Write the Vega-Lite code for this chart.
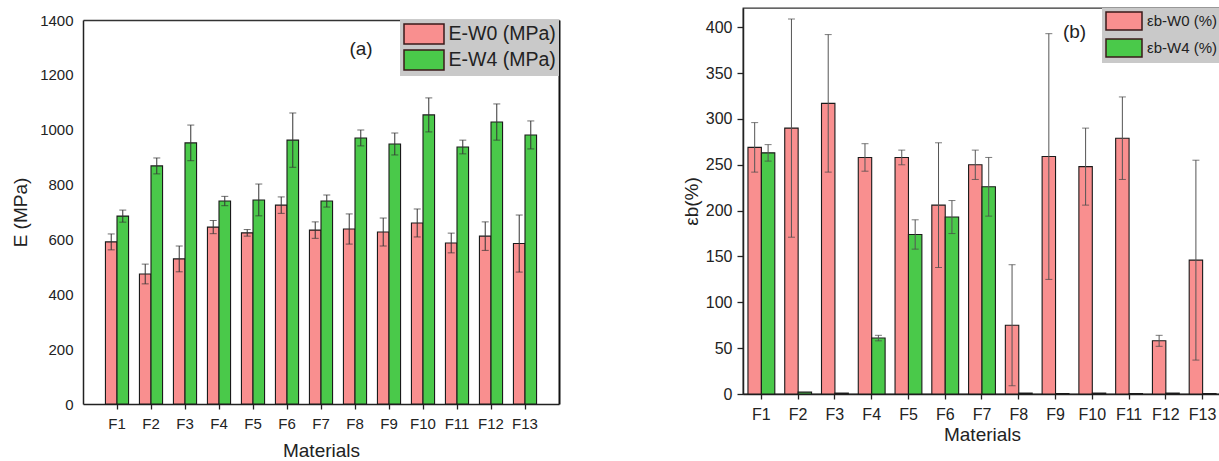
{
  "$schema": "https://vega.github.io/schema/vega-lite/v6.json",
  "background": "white",
  "padding": {"left": 11, "top": 7, "right": 0, "bottom": 0},
  "config": {
    "font": "Liberation Sans",
    "view": {"stroke": "#333", "strokeWidth": 1.3},
    "axis": {"domainColor": "#222", "domainWidth": 1.5, "tickColor": "#222", "tickWidth": 1.3, "labelColor": "#222", "titleColor": "#222", "grid": false, "titleFontWeight": "normal", "labelFont": "Liberation Sans", "titleFont": "Liberation Sans"},
    "legend": {"labelFont": "Liberation Sans", "labelColor": "#222"}
  },
  "resolve": {"scale": {"color": "independent", "xOffset": "independent", "x": "independent", "y": "independent"}, "legend": {"color": "independent"}},
  "spacing": 122,
  "hconcat": [
    {
      "width": 476,
      "height": 396,
      "view": {"stroke": null},
      "data": {"values": [
        {"m": "F1", "s": "E-W0 (MPa)", "v": 591, "lo": 562, "hi": 620},
        {"m": "F1", "s": "E-W4 (MPa)", "v": 685, "lo": 663, "hi": 707},
        {"m": "F2", "s": "E-W0 (MPa)", "v": 474, "lo": 438, "hi": 510},
        {"m": "F2", "s": "E-W4 (MPa)", "v": 868, "lo": 839, "hi": 897},
        {"m": "F3", "s": "E-W0 (MPa)", "v": 529, "lo": 482, "hi": 576},
        {"m": "F3", "s": "E-W4 (MPa)", "v": 952, "lo": 887, "hi": 1017},
        {"m": "F4", "s": "E-W0 (MPa)", "v": 645, "lo": 621, "hi": 669},
        {"m": "F4", "s": "E-W4 (MPa)", "v": 740, "lo": 723, "hi": 757},
        {"m": "F5", "s": "E-W0 (MPa)", "v": 624, "lo": 612, "hi": 636},
        {"m": "F5", "s": "E-W4 (MPa)", "v": 744, "lo": 686, "hi": 802},
        {"m": "F6", "s": "E-W0 (MPa)", "v": 725, "lo": 695, "hi": 755},
        {"m": "F6", "s": "E-W4 (MPa)", "v": 962, "lo": 863, "hi": 1061},
        {"m": "F7", "s": "E-W0 (MPa)", "v": 634, "lo": 604, "hi": 664},
        {"m": "F7", "s": "E-W4 (MPa)", "v": 740, "lo": 718, "hi": 762},
        {"m": "F8", "s": "E-W0 (MPa)", "v": 638, "lo": 583, "hi": 693},
        {"m": "F8", "s": "E-W4 (MPa)", "v": 970, "lo": 941, "hi": 999},
        {"m": "F9", "s": "E-W0 (MPa)", "v": 627, "lo": 576, "hi": 678},
        {"m": "F9", "s": "E-W4 (MPa)", "v": 948, "lo": 908, "hi": 988},
        {"m": "F10", "s": "E-W0 (MPa)", "v": 660, "lo": 609, "hi": 711},
        {"m": "F10", "s": "E-W4 (MPa)", "v": 1054, "lo": 992, "hi": 1116},
        {"m": "F11", "s": "E-W0 (MPa)", "v": 587, "lo": 551, "hi": 623},
        {"m": "F11", "s": "E-W4 (MPa)", "v": 937, "lo": 912, "hi": 962},
        {"m": "F12", "s": "E-W0 (MPa)", "v": 612, "lo": 560, "hi": 664},
        {"m": "F12", "s": "E-W4 (MPa)", "v": 1028, "lo": 962, "hi": 1094},
        {"m": "F13", "s": "E-W0 (MPa)", "v": 585, "lo": 481, "hi": 689},
        {"m": "F13", "s": "E-W4 (MPa)", "v": 981, "lo": 930, "hi": 1032}
      ]},
      "encoding": {
        "x": {"field": "m", "type": "nominal", "sort": ["F1","F2","F3","F4","F5","F6","F7","F8","F9","F10","F11","F12","F13"],
              "scale": {"paddingInner": 0.32, "paddingOuter": 0.66}, "axis": null},
        "xOffset": {"field": "s", "type": "nominal", "scale": {"paddingInner": 0, "paddingOuter": 0}}
      },
      "resolve": {"axis": {"x": "independent", "y": "independent"}},
      "layer": [
        {
          "mark": {"type": "bar", "stroke": "#1a1a1a", "strokeWidth": 1.1, "opacity": 1},
          "encoding": {
            "x": {"field": "m", "type": "nominal", "sort": ["F1","F2","F3","F4","F5","F6","F7","F8","F9","F10","F11","F12","F13"],
                  "axis": {"title": "Materials", "titleFontSize": 19, "titlePadding": 10, "labelFontSize": 15, "labelAngle": 0, "tickSize": 5, "labelPadding": 7}},
            "y": {"field": "v", "type": "quantitative", "scale": {"domain": [0, 1400], "nice": false, "range": [396, 12]},
                  "axis": {"title": "E (MPa)", "titleFontSize": 19, "titlePadding": 9, "labelFontSize": 15, "ticks": false, "labelPadding": 10, "format": "d", "values": [0,200,400,600,800,1000,1200,1400]}},
            "color": {"field": "s", "type": "nominal", "scale": {"range": ["#F98F8F", "#4AC94A"]},
                      "legend": {"title": null, "orient": "none", "legendX": 317, "legendY": 12, "fillColor": "#c9c9c9", "padding": 3, "rowPadding": 0, "labelFontSize": 19.5, "labelOffset": 23.5, "symbolType": "M-1,-1H3V1H-1Z", "symbolSize": 400, "symbolStrokeColor": "#3a1a1a", "symbolStrokeWidth": 1.5, "symbolOpacity": 1}}
          }
        },
        {
          "mark": {"type": "rule", "color": "#333", "strokeWidth": 1},
          "encoding": {"y": {"field": "lo", "type": "quantitative", "axis": null}, "y2": {"field": "hi"}}
        },
        {
          "mark": {"type": "tick", "orient": "horizontal", "color": "#333", "size": 7, "thickness": 1},
          "encoding": {"y": {"field": "hi", "type": "quantitative", "axis": null}}
        },
        {
          "mark": {"type": "tick", "orient": "horizontal", "color": "#333", "size": 7, "thickness": 1},
          "encoding": {"y": {"field": "lo", "type": "quantitative", "axis": null}}
        },
        {
          "data": {"values": [{"m": "F8", "v": 1294, "t": "(a)"}]},
          "mark": {"type": "text", "fontSize": 19, "color": "#222", "dx": 6},
          "encoding": {"x": {"field": "m", "type": "nominal", "axis": null}, "xOffset": null, "y": {"field": "v", "type": "quantitative", "axis": null}, "text": {"field": "t"}}
        },
        {
          "mark": {"type": "point", "opacity": 0},
          "encoding": {
            "x": {"field": "m", "type": "nominal", "sort": ["F1","F2","F3","F4","F5","F6","F7","F8","F9","F10","F11","F12","F13"],
                  "axis": {"orient": "top", "offset": -12, "labels": false, "ticks": false, "title": null, "domainColor": "#333", "domainWidth": 1.3}},
            "xOffset": null,
            "y": {"field": "v", "type": "quantitative",
                  "axis": {"orient": "right", "labels": false, "ticks": false, "title": null, "domainColor": "#111", "domainWidth": 2}}
          }
        }
      ]
    },
    {
      "width": 478,
      "height": 386,
      "data": {"values": [
        {"m": "F1", "s": "εb-W0 (%)", "v": 269, "lo": 242, "hi": 296},
        {"m": "F1", "s": "εb-W4 (%)", "v": 263, "lo": 254, "hi": 272},
        {"m": "F2", "s": "εb-W0 (%)", "v": 290, "lo": 171, "hi": 409},
        {"m": "F2", "s": "εb-W4 (%)", "v": 2, "lo": null, "hi": null},
        {"m": "F3", "s": "εb-W0 (%)", "v": 317, "lo": 242, "hi": 392},
        {"m": "F3", "s": "εb-W4 (%)", "v": 1, "lo": null, "hi": null},
        {"m": "F4", "s": "εb-W0 (%)", "v": 258, "lo": 243, "hi": 273},
        {"m": "F4", "s": "εb-W4 (%)", "v": 61, "lo": 58, "hi": 64},
        {"m": "F5", "s": "εb-W0 (%)", "v": 258, "lo": 250, "hi": 266},
        {"m": "F5", "s": "εb-W4 (%)", "v": 174, "lo": 158, "hi": 190},
        {"m": "F6", "s": "εb-W0 (%)", "v": 206, "lo": 138, "hi": 274},
        {"m": "F6", "s": "εb-W4 (%)", "v": 193, "lo": 175, "hi": 211},
        {"m": "F7", "s": "εb-W0 (%)", "v": 250, "lo": 234, "hi": 266},
        {"m": "F7", "s": "εb-W4 (%)", "v": 226, "lo": 194, "hi": 258},
        {"m": "F8", "s": "εb-W0 (%)", "v": 75, "lo": 9, "hi": 141},
        {"m": "F8", "s": "εb-W4 (%)", "v": 1, "lo": null, "hi": null},
        {"m": "F9", "s": "εb-W0 (%)", "v": 259, "lo": 125, "hi": 393},
        {"m": "F9", "s": "εb-W4 (%)", "v": 0.5, "lo": null, "hi": null},
        {"m": "F10", "s": "εb-W0 (%)", "v": 248, "lo": 206, "hi": 290},
        {"m": "F10", "s": "εb-W4 (%)", "v": 1, "lo": null, "hi": null},
        {"m": "F11", "s": "εb-W0 (%)", "v": 279, "lo": 234, "hi": 324},
        {"m": "F11", "s": "εb-W4 (%)", "v": 0.5, "lo": null, "hi": null},
        {"m": "F12", "s": "εb-W0 (%)", "v": 58, "lo": 52, "hi": 64},
        {"m": "F12", "s": "εb-W4 (%)", "v": 1, "lo": null, "hi": null},
        {"m": "F13", "s": "εb-W0 (%)", "v": 146, "lo": 37, "hi": 255},
        {"m": "F13", "s": "εb-W4 (%)", "v": 0.5, "lo": null, "hi": null}
      ]},
      "encoding": {
        "x": {"field": "m", "type": "nominal", "sort": ["F1","F2","F3","F4","F5","F6","F7","F8","F9","F10","F11","F12","F13"],
              "scale": {"paddingInner": 0.27, "paddingOuter": 0.135},
              "axis": {"title": "Materials", "titleFontSize": 19, "titlePadding": 3, "labelFontSize": 16, "labelAngle": 0, "tickSize": 5, "labelPadding": 7}},
        "xOffset": {"field": "s", "type": "nominal", "scale": {"paddingInner": 0, "paddingOuter": 0}}
      },
      "layer": [
        {
          "mark": {"type": "bar", "stroke": "#1a1a1a", "strokeWidth": 1.1, "opacity": 1},
          "encoding": {
            "y": {"field": "v", "type": "quantitative", "scale": {"domain": [0, 421], "nice": false},
                  "axis": {"title": "εb(%)", "titleFontSize": 19, "titlePadding": 4, "labelFontSize": 16, "labelPadding": 5,
                           "values": [0,25,50,75,100,125,150,175,200,225,250,275,300,325,350,375,400],
                           "labelExpr": "datum.value % 50 === 0 ? datum.label : ''",
                           "tickSize": {"condition": {"test": "datum.value % 50 === 0", "value": 6}, "value": 3}}},
            "color": {"field": "s", "type": "nominal", "scale": {"range": ["#F98F8F", "#4AC94A"]},
                      "legend": {"title": null, "orient": "top-right", "offset": 0, "fillColor": "#c9c9c9", "padding": 3, "rowPadding": 3, "labelFontSize": 15, "labelOffset": 22, "symbolType": "M-1,-1H3V1H-1Z", "symbolSize": 324, "symbolStrokeColor": "#3a1a1a", "symbolStrokeWidth": 1.5, "symbolOpacity": 1}}
          }
        },
        {
          "mark": {"type": "rule", "color": "#555", "strokeWidth": 1},
          "encoding": {"y": {"field": "lo", "type": "quantitative"}, "y2": {"field": "hi"}}
        },
        {
          "mark": {"type": "tick", "orient": "horizontal", "color": "#444", "size": 7, "thickness": 1},
          "encoding": {"y": {"field": "hi", "type": "quantitative"}}
        },
        {
          "mark": {"type": "tick", "orient": "horizontal", "color": "#444", "size": 7, "thickness": 1},
          "encoding": {"y": {"field": "lo", "type": "quantitative"}}
        },
        {
          "data": {"values": [{"m": "F9", "v": 395, "t": "(b)"}]},
          "mark": {"type": "text", "fontSize": 19, "color": "#222", "dx": 19},
          "encoding": {"x": {"field": "m", "type": "nominal"}, "xOffset": null, "y": {"field": "v", "type": "quantitative"}, "text": {"field": "t"}}
        }
      ]
    }
  ]
}
